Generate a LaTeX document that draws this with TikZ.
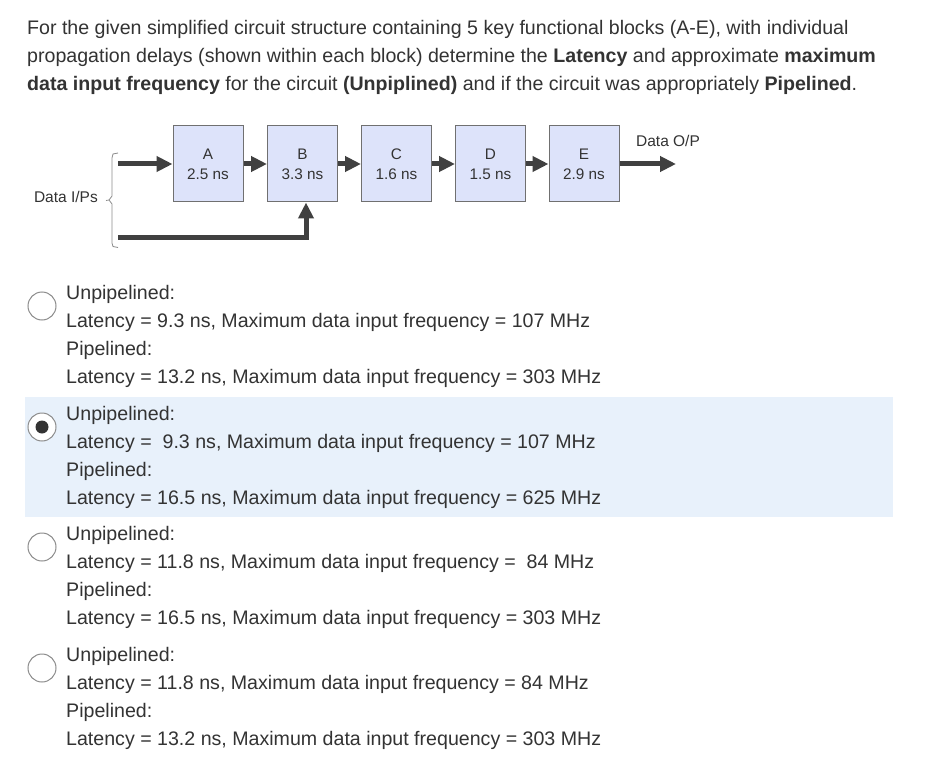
\documentclass[tikz,border=0pt]{standalone}
\usepackage{fontspec}
\setmainfont{Liberation Sans}
\usetikzlibrary{arrows.meta}
\definecolor{txt}{HTML}{333333}
\definecolor{blockfill}{HTML}{DDE3FA}
\definecolor{blockline}{HTML}{707070}
\definecolor{arr}{HTML}{404040}
\definecolor{band}{HTML}{E8F1FB}
\definecolor{radio}{HTML}{8C8C8C}
\tikzset{
  line/.style={inner sep=0pt, anchor=base west, text=txt, font=\fontsize{19.6}{24}\selectfont},
  block/.style={draw=blockline, line width=1pt, fill=blockfill, minimum width=70pt, minimum height=76pt, inner sep=0pt, align=center, text=txt, font=\fontsize{15.3}{20}\selectfont},
  flow/.style={draw=arr, line width=5pt, -{Triangle[length=16pt,width=15pt]}},
  radiobtn/.style={circle, draw=radio, line width=1pt, fill=white, minimum size=28pt, inner sep=0pt},
  small/.style={inner sep=0pt, text=txt, font=\fontsize{15.5}{18}\selectfont},
}
\begin{document}
\begin{tikzpicture}[x=1pt,y=-1pt]
\useasboundingbox[fill=white] (0,0) rectangle (952,759);
% title
\node[line] (t1) at (27,34.5) {For the given simplified circuit structure containing 5 key functional blocks (A-E), with individual};
\node[line] (t2) at (27,62.5) {propagation delays (shown within each block) determine the \textbf{Latency} and approximate \textbf{maximum}};
\node[line] (t3) at (27,90.5) {\textbf{data input frequency} for the circuit \textbf{(Unpiplined)} and if the circuit was appropriately \textbf{Pipelined}.};
% blocks
\node[block] (A) at (208,164) {A\\2.5 ns};
\node[block] (B) at (302.5,164) {B\\3.3 ns};
\node[block] (C) at (396.5,164) {C\\1.6 ns};
\node[block] (D) at (490.5,164) {D\\1.5 ns};
\node[block] (E) at (584,164) {E\\2.9 ns};
\coordinate (in1) at (118,164);
\coordinate (in2) at (118,238);
\coordinate (out) at (676,164);
\draw[flow] (in1) -- (A.west);
\draw[flow] (A) -- (B);
\draw[flow] (B) -- (C);
\draw[flow] (C) -- (D);
\draw[flow] (D) -- (E);
\draw[flow] (E) -- (out);
\draw[flow] (in2) -- (306,238) -- (306,202.5);
% brace
\draw[draw=radio, line width=0.8pt] (118,153) -- (113,154) -- (112,158) -- (112,196) -- (109,200) -- (106,200.5) (109,200) -- (112,204) -- (112,243) -- (113,246.5) -- (118,247.5);
\node[small, anchor=base east] (dip) at (98,203) {Data I/Ps};
\node[small, anchor=base] (dop) at (668,147) {Data O/P};
% highlight
\fill[band] (25,397) rectangle (893,517);
% options
\node[radiobtn] (r1) at (42,306) {};
\node[radiobtn] (r2) at (42,427) {};
\fill[txt] (r2.center) circle (6.5);
\node[radiobtn] (r3) at (42,547) {};
\node[radiobtn] (r4) at (42,668) {};
\node[line] (o1a) at (66,299) {Unpipelined:};
\node[line] (o1b) at (66,327) {Latency = 9.3 ns, Maximum data input frequency = 107 MHz};
\node[line] (o1c) at (66,355) {Pipelined:};
\node[line] (o1d) at (66,383) {Latency = 13.2 ns, Maximum data input frequency = 303 MHz};
\node[line] (o2a) at (66,420) {Unpipelined:};
\node[line] (o2b) at (66,448) {Latency = \ 9.3 ns, Maximum data input frequency = 107 MHz};
\node[line] (o2c) at (66,476) {Pipelined:};
\node[line] (o2d) at (66,504) {Latency = 16.5 ns, Maximum data input frequency = 625 MHz};
\node[line] (o3a) at (66,540) {Unpipelined:};
\node[line] (o3b) at (66,568) {Latency = 11.8 ns, Maximum data input frequency = \ 84 MHz};
\node[line] (o3c) at (66,596) {Pipelined:};
\node[line] (o3d) at (66,624) {Latency = 16.5 ns, Maximum data input frequency = 303 MHz};
\node[line] (o4a) at (66,661) {Unpipelined:};
\node[line] (o4b) at (66,689) {Latency = 11.8 ns, Maximum data input frequency = 84 MHz};
\node[line] (o4c) at (66,717) {Pipelined:};
\node[line] (o4d) at (66,745) {Latency = 13.2 ns, Maximum data input frequency = 303 MHz};
\end{tikzpicture}
\end{document}
